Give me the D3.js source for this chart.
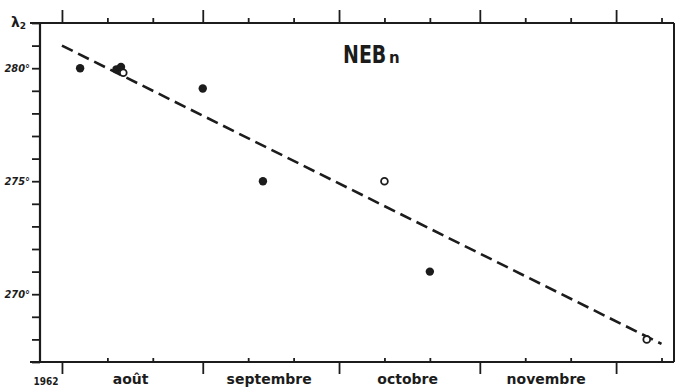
<!DOCTYPE html>
<html><head><meta charset="utf-8">
<script src="https://cdn.jsdelivr.net/npm/d3@7"></script>
<style>
html,body{margin:0;padding:0;background:#fff;}
svg{display:block;}
.ax path{display:none;}
.ax line{stroke:#1c1c1c;stroke-width:1.8;}
.ax text{fill:#1c1c1c;}
</style></head><body>
<script>
// ---- data ----
const filledDates = ["1962-08-05T00:00Z","1962-08-13T00:00Z","1962-08-14T00:00Z","1962-09-01T00:00Z","1962-09-14T06:00Z","1962-10-21T00:00Z"];
const filledValues = [280.0, 279.95, 280.05, 279.1, 275.0, 271.0];
const openDates = ["1962-08-14T12:00Z","1962-10-11T00:00Z","1962-12-07T18:00Z"];
const openValues = [279.8, 275.0, 268.0];
const trendDates = ["1962-08-01T00:00Z","1962-12-11T00:00Z"];
const trendValues = [281.0, 267.8];
const monthStarts = ["1962-08-01T00:00Z","1962-09-01T00:00Z","1962-10-01T00:00Z","1962-11-01T00:00Z","1962-12-01T00:00Z"];
const minorTickDates = ["1962-08-11T00:00Z","1962-08-21T00:00Z","1962-09-11T00:00Z","1962-09-21T00:00Z","1962-10-11T00:00Z","1962-10-21T00:00Z","1962-11-11T00:00Z","1962-11-21T00:00Z","1962-12-11T00:00Z"];
const monthLabelDates = ["1962-08-16T00:00Z","1962-09-15T12:00Z","1962-10-16T00:00Z","1962-11-15T12:00Z"];
const monthLabels = ["août","septembre","octobre","novembre"];
const yTickValues = [267,268,269,270,271,272,273,274,275,276,277,278,279,280,281,282];
const yLabelValues = [270,275,280];
const yearLabel = "1962";
const titleText = "NEB";
const titleSub = "n";
const yAxisSymbol = "λ";
const yAxisSub = "2";

const W = 676, H = 389;
const L = 40, R = 674, T = 23, B = 362;
const ink = "#1c1c1c";
const P = s => new Date(s);

const svg = d3.select("body").append("svg").attr("width", W).attr("height", H);

const x = d3.scaleUtc().domain([P("1962-07-27T04:00Z"), P("1962-12-13T18:00Z")]).range([L, R]);
const y = d3.scaleLinear().domain([267, 282]).range([B, T]);

// frame lines
svg.append("line").attr("x1", 30).attr("x2", R).attr("y1", B).attr("y2", B).attr("stroke", ink).attr("stroke-width", 2);
svg.append("line").attr("x1", 30).attr("x2", R).attr("y1", T).attr("y2", T).attr("stroke", ink).attr("stroke-width", 2);
svg.append("line").attr("x1", L).attr("x2", L).attr("y1", T).attr("y2", B).attr("stroke", ink).attr("stroke-width", 2.2);
svg.append("line").attr("x1", R).attr("x2", R).attr("y1", T).attr("y2", B).attr("stroke", ink).attr("stroke-width", 2);

// bottom major ticks (down)
svg.append("g").attr("class","ax").attr("transform",`translate(0,${B})`)
  .call(d3.axisBottom(x).tickValues(monthStarts.map(P)).tickSize(12).tickFormat(""));
// bottom minor ticks (inward)
svg.append("g").attr("class","ax").attr("transform",`translate(0,${B})`)
  .call(d3.axisBottom(x).tickValues(minorTickDates.map(P)).tickSize(-4).tickFormat(""));
// top major ticks (up)
svg.append("g").attr("class","ax").attr("transform",`translate(0,${T})`)
  .call(d3.axisTop(x).tickValues(monthStarts.map(P)).tickSize(13).tickFormat(""));
// top minor ticks (up)
svg.append("g").attr("class","ax").attr("transform",`translate(0,${T})`)
  .call(d3.axisTop(x).tickValues(minorTickDates.map(P)).tickSize(5).tickFormat(""));

// month labels
const ml = svg.append("g").attr("class","ax").attr("transform",`translate(0,${B})`)
  .call(d3.axisBottom(x).tickValues(monthLabelDates.map(P)).tickSize(0).tickPadding(9)
    .tickFormat((d,i)=>monthLabels[i]));
ml.selectAll("line").remove();
ml.selectAll("text").attr("font-family","'DejaVu Sans', sans-serif").attr("font-size",14)
  .attr("font-weight","bold").attr("dy","0.9em");

// year label
svg.append("text").attr("x", 46).attr("y", 385).attr("text-anchor","middle")
  .attr("font-family","'DejaVu Sans Condensed','DejaVu Sans',sans-serif").attr("font-size",10)
  .attr("font-weight","bold").attr("fill",ink).text(yearLabel);

// left axis
const ya = svg.append("g").attr("class","ax").attr("transform",`translate(${L},0)`)
  .call(d3.axisLeft(y).tickValues(yTickValues).tickSize(8).tickPadding(2)
    .tickFormat(d => yLabelValues.includes(d) ? d + "°" : ""));
ya.selectAll("text").attr("font-family","'DejaVu Sans Condensed','DejaVu Sans',sans-serif")
  .attr("font-size",11).attr("font-weight","bold").attr("font-style","italic");

// lambda label
const lt = svg.append("text").attr("x", 11).attr("y", 27).attr("fill", ink)
  .attr("font-family","'DejaVu Sans', sans-serif").attr("font-weight","bold").attr("font-size",14);
lt.append("tspan").text(yAxisSymbol);
lt.append("tspan").attr("font-size",9).attr("dy",2).text(yAxisSub);

// title
svg.append("text").attr("transform","translate(343,63) scale(0.76,1)").attr("fill", ink)
  .attr("font-family","'DejaVu Sans', sans-serif").attr("font-weight","bold")
  .attr("font-size",25).text(titleText);
svg.append("text").attr("x", 389).attr("y", 63).attr("fill", ink)
  .attr("font-family","'DejaVu Sans', sans-serif").attr("font-weight","bold")
  .attr("font-size",15).text(titleSub);

// trend line
const line = d3.line().x(d => x(P(d[0]))).y(d => y(d[1]));
svg.append("path").datum(trendDates.map((d,i)=>[d, trendValues[i]]))
  .attr("d", line).attr("fill","none").attr("stroke", ink).attr("stroke-width",2.6)
  .attr("stroke-dasharray","12,6");

// filled points
svg.append("g").selectAll("circle").data(filledDates.map((d,i)=>[d, filledValues[i]]))
  .join("circle").attr("cx", d=>x(P(d[0]))).attr("cy", d=>y(d[1])).attr("r",4.2).attr("fill", ink);
// open points
svg.append("g").selectAll("circle").data(openDates.map((d,i)=>[d, openValues[i]]))
  .join("circle").attr("cx", d=>x(P(d[0]))).attr("cy", d=>y(d[1])).attr("r",3.4)
  .attr("fill","#fff").attr("stroke", ink).attr("stroke-width",1.8);
</script>
</body></html>
